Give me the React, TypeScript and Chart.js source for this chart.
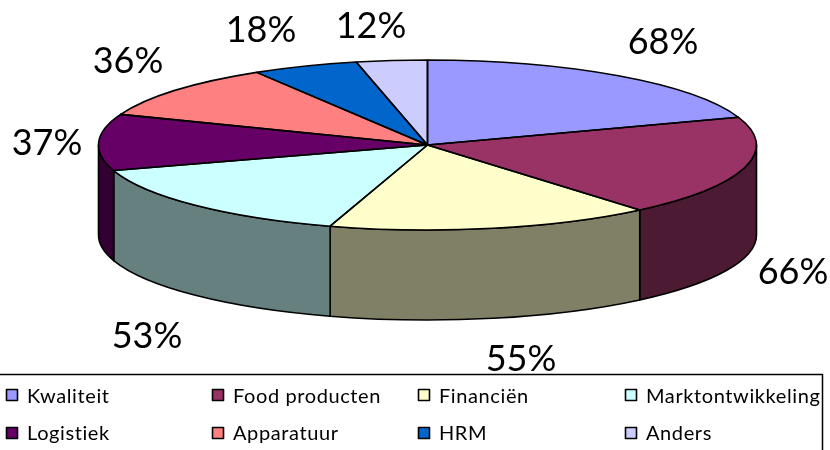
import React, { useEffect, useRef } from "react";
import { Chart, registerables } from "chart.js";

Chart.register(...registerables);

const categories = ["Kwaliteit", "Food producten", "Financiën", "Marktontwikkeling", "Logistiek", "Apparatuur", "HRM", "Anders"];
const values = [68, 66, 55, 53, 37, 36, 18, 12];
const valueLabels = ["68%", "66%", "55%", "53%", "37%", "36%", "18%", "12%"];
const topColors = ["#9999FF", "#993366", "#FFFFCC", "#CCFFFF", "#660066", "#FF8080", "#0066CC", "#CCCCFF"];
const sideColors = ["#4D4D80", "#4D1A33", "#808066", "#668080", "#330033", "#804040", "#003366", "#666680"];
const labelCenters = [[663, 42], [793, 272], [521, 359], [147, 336], [47, 143], [128, 61], [261, 30], [371, 26]];
const legendCols = [6, 212, 418, 625];
const legendRows = [395, 433];

const CX = 427.5, CY = 145, RX = 329, RY = 85, DEPTH = 90;

const pie3d = {
  id: "pie3d",
  beforeDatasetsDraw(chart: any) {
    const ctx = chart.ctx;
    const arcs = chart.getDatasetMeta(0).data;
    ctx.save();
    ctx.lineWidth = 1.6;
    ctx.strokeStyle = "#000";
    ctx.lineJoin = "round";
    arcs.forEach((arc: any, i: number) => {
      const s = Math.max(arc.startAngle, 0), e = Math.min(arc.endAngle, Math.PI);
      if (e <= s) return;
      ctx.beginPath();
      ctx.ellipse(CX, CY, RX, RY, 0, s, e);
      ctx.ellipse(CX, CY + DEPTH, RX, RY, 0, e, s, true);
      ctx.closePath();
      ctx.fillStyle = sideColors[i];
      ctx.fill();
      ctx.stroke();
    });
    ctx.restore();
    ctx.save();
    const p = arcs[0];
    const r = p.outerRadius;
    ctx.translate(CX, CY);
    ctx.scale(RX / r, RY / r);
    ctx.translate(-p.x, -p.y);
  },
  afterDatasetsDraw(chart: any) {
    const ctx = chart.ctx;
    ctx.restore();
    const arcs = chart.getDatasetMeta(0).data;
    ctx.save();
    ctx.lineWidth = 1.6;
    ctx.strokeStyle = "#000";
    ctx.lineJoin = "round";
    arcs.forEach((arc: any) => {
      ctx.beginPath();
      ctx.moveTo(CX, CY);
      ctx.ellipse(CX, CY, RX, RY, 0, arc.startAngle, arc.endAngle);
      ctx.closePath();
      ctx.stroke();
    });
    // value labels
    ctx.fillStyle = "#000";
    ctx.font = "36px Lato";
    ctx.textAlign = "center";
    ctx.textBaseline = "middle";
    valueLabels.forEach((t, i) => ctx.fillText(t, labelCenters[i][0], labelCenters[i][1]));
    // legend frame: top and right edges are the ones inside the picture
    ctx.lineWidth = 1.5;
    ctx.beginPath();
    ctx.moveTo(0, 374.5);
    ctx.lineTo(822.5, 374.5);
    ctx.lineTo(822.5, 450);
    ctx.stroke();
    // legend entries
    ctx.font = "20px Lato";
    ctx.textAlign = "left";
    ctx.lineWidth = 1.6;
    (ctx as any).letterSpacing = "0.6px";
    categories.forEach((c, i) => {
      const x = legendCols[i % 4], y = legendRows[Math.floor(i / 4)];
      ctx.fillStyle = topColors[i];
      ctx.fillRect(x + 0.5, y - 5.5, 11, 11);
      ctx.strokeRect(x + 0.5, y - 5.5, 11, 11);
      ctx.fillStyle = "#000";
      ctx.fillText(c, x + 21, y + 2 - Math.floor(i / 4));
    });
    ctx.restore();
  },
};

export default function App() {
  const ref = useRef<HTMLCanvasElement>(null);
  useEffect(() => {
    const chart = new Chart(ref.current!, {
      type: "pie",
      data: {
        labels: categories,
        datasets: [{ data: values, backgroundColor: topColors, borderWidth: 0 }],
      },
      options: {
        responsive: false,
        animation: false,
        layout: { padding: 0 },
        plugins: { legend: { display: false }, tooltip: { enabled: false } },
      },
      plugins: [pie3d],
    });
    return () => chart.destroy();
  }, []);
  return (
    <div style={{ position: "fixed", left: 0, top: 0, width: 830, height: 450, background: "#fff" }}>
      <canvas ref={ref} width={830} height={450} style={{ display: "block" }} />
    </div>
  );
}
